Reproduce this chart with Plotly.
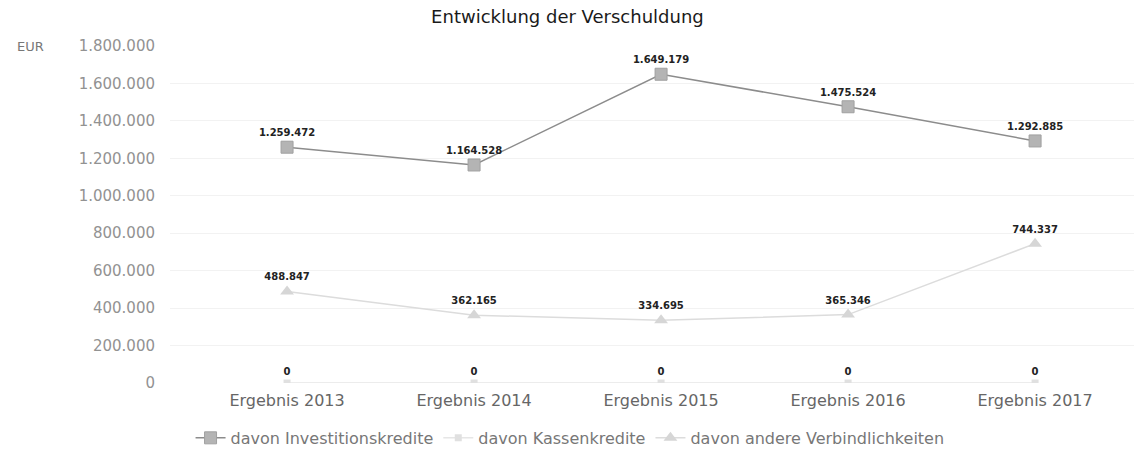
import plotly.graph_objects as go

categories = ["Ergebnis 2013", "Ergebnis 2014", "Ergebnis 2015", "Ergebnis 2016", "Ergebnis 2017"]
investitionskredite = [1259472, 1164528, 1649179, 1475524, 1292885]
kassenkredite = [0, 0, 0, 0, 0]
andere_verbindlichkeiten = [488847, 362165, 334695, 365346, 744337]
y_ticks = [0, 200000, 400000, 600000, 800000, 1000000, 1200000, 1400000, 1600000, 1800000]

FONT = "DejaVu Sans, Verdana, sans-serif"
fig = go.Figure()

label_font = dict(family=FONT, size=10, color="#222222", weight="bold")

fig.add_trace(go.Scatter(
    x=categories, y=investitionskredite, name="davon Investitionskredite",
    mode="lines+markers+text",
    line=dict(color="#8c8c8c", width=1.5),
    marker=dict(symbol="square", size=12, color="#b4b4b4", line=dict(color="#a0a0a0", width=1)),
    texttemplate="%{y:,.0f}", textposition="top center",
    textfont=label_font,
))
fig.add_trace(go.Scatter(
    x=categories, y=kassenkredite, name="davon Kassenkredite",
    mode="lines+markers+text",
    line=dict(color="#e6e6e6", width=1.5),
    marker=dict(symbol="square", size=7, color="#e0e0e0"),
    texttemplate="%{y:,.0f}", textposition="top center",
    textfont=label_font,
))
fig.add_trace(go.Scatter(
    x=categories, y=andere_verbindlichkeiten, name="davon andere Verbindlichkeiten",
    mode="lines+markers+text",
    line=dict(color="#dcdcdc", width=1.5),
    marker=dict(symbol="triangle-up", size=12, color="#d6d6d6"),
    texttemplate="%{y:,.0f}", textposition="top center",
    textfont=label_font,
))

fig.update_layout(
    width=1144, height=455,
    separators=",.",
    paper_bgcolor="white", plot_bgcolor="white",
    margin=dict(l=170, r=10, t=46, b=72, autoexpand=False),
    title=dict(text="Entwicklung der Verschuldung", x=0.496, xanchor="center", y=0.963, yanchor="middle",
               font=dict(family=FONT, size=18, color="#1a1a1a")),
    font=dict(family=FONT),
    showlegend=True,
    legend=dict(orientation="h", x=0.415, xanchor="center", y=-0.163, yanchor="middle",
                font=dict(family=FONT, size=16, color="#777777"), itemwidth=30),
    xaxis=dict(showgrid=False, showline=False, zeroline=False, ticks="",
               range=[-0.626, 4.529], ticklabelstandoff=6,
               tickfont=dict(family=FONT, size=16, color="#666666")),
    yaxis=dict(range=[0, 1800000], tickvals=y_ticks, tickformat=",.0f",
               showgrid=True, gridcolor="#f2f2f2", gridwidth=1, zeroline=False,
               showline=False, ticks="", ticklabelstandoff=14,
               tickfont=dict(family=FONT, size=15, color="#929292")),
    annotations=[dict(text="EUR", xref="paper", yref="paper", x=-0.161, y=1.0,
                      xanchor="left", yanchor="middle", showarrow=False,
                      font=dict(family=FONT, size=13, color="#777777"))],
)

fig.write_html("out.html", config={"displayModeBar": False},
               post_script="document.body.style.margin='0';")
